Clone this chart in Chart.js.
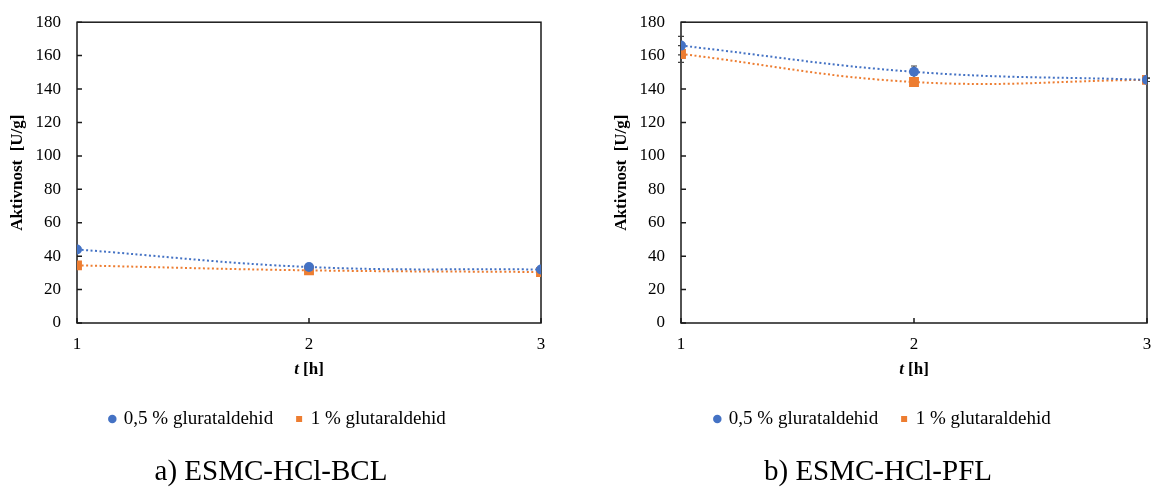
<!DOCTYPE html>
<html>
<head>
<meta charset="utf-8">
<script src="https://cdn.jsdelivr.net/npm/chart.js@4.4.1/dist/chart.umd.min.js"></script>
<style>
  body { margin: 0; width: 1151px; height: 493px; overflow: hidden; background: #fff; position: relative; font-family: "Liberation Serif", serif; }
  canvas { position: absolute; top: -4px; }
  .cap { position: absolute; top: 455px; line-height: 30px; font-size: 29px; color: #000; transform: translateX(-50%); white-space: nowrap; }
</style>
</head>
<body>
<canvas id="bcl" width="575" height="460" style="left:0px"></canvas>
<canvas id="pfl" width="590" height="460" style="left:576px"></canvas>
<div class="cap" style="left:271px">a) ESMC-HCl-BCL</div>
<div class="cap" style="left:878px">b) ESMC-HCl-PFL</div>
<script>
// time points and axis range
const hours = [1, 2, 3];
const yMin = 0, yMax = 180, yStep = 20;
const seriesNames = ["0,5 % glurataldehid", "1 % glutaraldehid"];
const seriesColors = ["#4472C4", "#ED7D31"];

// a) ESMC-HCl-BCL
const bclHalf = [44, 33.5, 32];
const bclOne = [34.5, 31.5, 30.5];
const bclHalfErr = [0, 0, 0];
const bclOneErr = [0, 0, 0];

// b) ESMC-HCl-PFL
const pflHalf = [166, 150.3, 145.5];
const pflOne = [161, 144.2, 145.5];
const pflHalfErr = [5.5, 3.5, 1];
const pflOneErr = [5, 1.5, 1];

const FONT = '"Liberation Serif", "Times New Roman", serif';

const framePlugin = {
  id: 'frame',
  beforeDatasetsDraw(chart) {
    const { ctx, chartArea: a, scales: { x, y } } = chart;
    ctx.save();
    ctx.strokeStyle = '#1a1a1a';
    ctx.lineWidth = 1.5;
    ctx.strokeRect(a.left, a.top, a.width, a.height);
    ctx.beginPath();
    y.ticks.forEach(t => {
      const py = y.getPixelForValue(t.value);
      ctx.moveTo(a.left, py); ctx.lineTo(a.left + 5, py);
    });
    x.ticks.forEach(t => {
      const px = x.getPixelForValue(t.value);
      ctx.moveTo(px, a.bottom); ctx.lineTo(px, a.bottom - 5);
    });
    ctx.stroke();
    // error bars
    ctx.strokeStyle = '#404040';
    ctx.lineWidth = 1.2;
    chart.data.datasets.forEach(ds => {
      ds.errors.forEach((e, j) => {
        if (!e) return;
        const p = ds.data[j];
        const px = x.getPixelForValue(p.x);
        const top = y.getPixelForValue(p.y + e), bot = y.getPixelForValue(p.y - e);
        ctx.beginPath();
        ctx.moveTo(px, top); ctx.lineTo(px, bot);
        ctx.moveTo(px - 3, top); ctx.lineTo(px + 3, top);
        ctx.moveTo(px - 3, bot); ctx.lineTo(px + 3, bot);
        ctx.stroke();
      });
    });
    ctx.restore();
  },
  afterDraw(chart) {
    const { ctx, chartArea: a } = chart;
    ctx.save();
    ctx.fillStyle = '#000';
    ctx.textBaseline = 'middle';
    ctx.textAlign = 'center';
    ctx.font = 'bold 17px ' + FONT;
    ctx.translate(a.left - 59, (a.top + a.bottom) / 2);
    ctx.rotate(-Math.PI / 2);
    ctx.fillText('Aktivnost  [U/g]', 0, 0);
    ctx.restore();

    ctx.save();
    ctx.fillStyle = '#000';
    ctx.textBaseline = 'middle';
    ctx.textAlign = 'left';
    const it = 'italic bold 17px ' + FONT, bd = 'bold 17px ' + FONT;
    ctx.font = it; const w1 = ctx.measureText('t').width;
    ctx.font = bd; const w2 = ctx.measureText(' [h]').width;
    const sx = (a.left + a.right) / 2 - (w1 + w2) / 2;
    ctx.font = it; ctx.fillText('t', sx, a.bottom + 47);
    ctx.font = bd; ctx.fillText(' [h]', sx + w1, a.bottom + 47);
    ctx.restore();
  }
};

function makeChart(id, half, one, halfErr, oneErr, padLeft, padRight) {
  return new Chart(document.getElementById(id), {
    type: 'line',
    data: {
      datasets: [
        {
          label: seriesNames[0],
          data: hours.map((h, i) => ({ x: h, y: half[i] })),
          errors: halfErr,
          borderColor: seriesColors[0],
          backgroundColor: seriesColors[0],
          borderWidth: 2,
          borderDash: [2, 2.5],
          tension: 0.4,
          pointStyle: 'circle',
          pointRadius: 5,
          pointBorderWidth: 0
        },
        {
          label: seriesNames[1],
          data: hours.map((h, i) => ({ x: h, y: one[i] })),
          errors: oneErr,
          borderColor: seriesColors[1],
          backgroundColor: seriesColors[1],
          borderWidth: 2,
          borderDash: [2, 2.5],
          tension: 0.4,
          pointStyle: 'rect',
          pointRadius: 7,
          pointBorderWidth: 0
        }
      ]
    },
    options: {
      responsive: false,
      animation: false,
      events: [],
      layout: { padding: { left: padLeft, right: padRight, top: 18, bottom: 17.5 } },
      scales: {
        x: {
          type: 'linear', min: hours[0], max: hours[hours.length - 1],
          ticks: { stepSize: 1, padding: 11, color: '#000', font: { family: FONT, size: 17 } },
          grid: { display: false, drawTicks: false },
          border: { display: false },
          afterFit: s => { s.height = 62.5; }
        },
        y: {
          min: yMin, max: yMax,
          ticks: { stepSize: yStep, padding: 16, color: '#000', font: { family: FONT, size: 17 } },
          grid: { display: false, drawTicks: false },
          border: { display: false },
          afterFit: s => { s.width = 62; }
        }
      },
      plugins: {
        legend: {
          position: 'bottom',
          labels: {
            usePointStyle: true, boxWidth: 4, boxHeight: 6, padding: 24,
            color: '#000', font: { family: FONT, size: 19 }
          }
        },
        tooltip: { enabled: false }
      }
    },
    plugins: [framePlugin]
  });
}

makeChart('bcl', bclHalf, bclOne, bclHalfErr, bclOneErr, 15, 34);
makeChart('pfl', pflHalf, pflOne, pflHalfErr, pflOneErr, 43, 19);
</script>
</body>
</html>
